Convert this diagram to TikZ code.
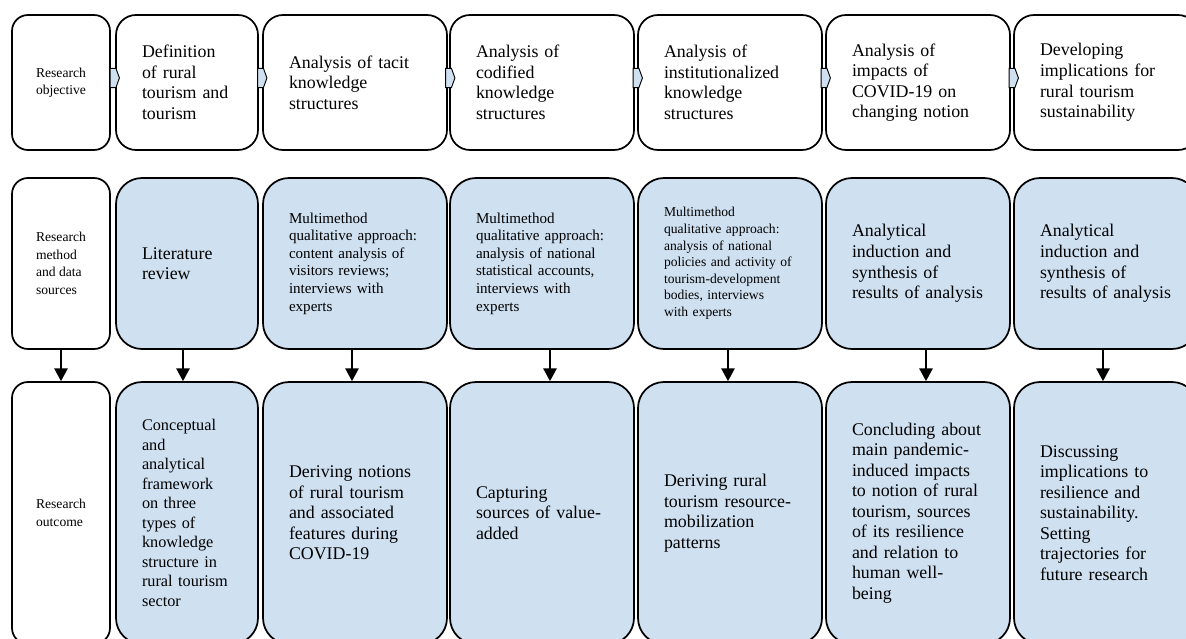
\documentclass[tikz,border=0pt]{standalone}
\usepackage{fontspec}
\setmainfont{Liberation Serif}
\usetikzlibrary{arrows.meta,shapes.symbols}
\definecolor{paleblue}{HTML}{CFE0F1}
\newcommand{\txtL}{\fontsize{13.4pt}{15.4pt}\selectfont}
\newcommand{\txtB}{\fontsize{12.2pt}{14.6pt}\selectfont}
\newcommand{\txtM}{\fontsize{11.3pt}{13.2pt}\selectfont}
\newcommand{\txtS}{\fontsize{10.2pt}{12.45pt}\selectfont}
\newcommand{\txtC}{\fontsize{10.2pt}{13.1pt}\selectfont}
\tikzstyle{labelbox}=[draw=black,line width=1.3pt,fill=white,rounded corners=12pt,
                      inner sep=0pt,align=left,minimum width=73.5pt,font=\txtC]
\tikzstyle{stepbox}=[draw=black,line width=1.3pt,fill=white,rounded corners=15pt,
                     inner xsep=19.5pt,align=left,font=\txtL]
\tikzstyle{bluebox}=[draw=black,line width=1.3pt,fill=paleblue,rounded corners=19.5pt,
                     inner xsep=19.5pt,align=left,font=\txtL]
\tikzstyle{chevron}=[signal,signal to=east,signal pointer angle=140,draw=black,
                     line width=0.7pt,fill=paleblue,inner sep=0pt,
                     minimum width=7pt,minimum height=14.5pt]
\tikzstyle{downarrow}=[-{Triangle[length=9.5pt,width=10pt]},line width=1pt]

\begin{document}
\begin{tikzpicture}[x=0.75pt,y=-0.75pt]
    \newcommand{\colw}{99pt}
    \newcommand{\rowa}{101.25pt}
    \newcommand{\rowb}{128.25pt}
    \newcommand{\rowc}{196.5pt}
    \useasboundingbox (0,0) rectangle (1186,639);
    \clip (0,0) rectangle (1186,639);
    % research objective
    \node (o0) at (61,82.5) [labelbox,minimum height=\rowa] {Research\\objective};
    \node (o1) at (187,82.5) [stepbox,text width=67.5pt,minimum height=\rowa]
      {Definition\\of rural\\tourism and\\tourism};
    \node (o2) at (355,82.5) [stepbox,text width=\colw,minimum height=\rowa]
      {Analysis of tacit\\knowledge\\structures};
    \node (o3) at (542,82.5) [stepbox,text width=\colw,minimum height=\rowa]
      {Analysis of\\codified\\knowledge\\structures};
    \node (o4) at (730,82.5) [stepbox,text width=\colw,minimum height=\rowa]
      {Analysis of\\institutionalized\\knowledge\\structures};
    \node (o5) at (918,82.5) [stepbox,text width=\colw,minimum height=\rowa]
      {Analysis of\\impacts of\\COVID-19 on\\changing notion};
    \node (o6) at (1106,82.5) [stepbox,text width=\colw,minimum height=\rowa]
      {Developing\\implications for\\rural tourism\\sustainability};
    % research method and data sources
    \node (m0) at (61,263.5) [labelbox,minimum height=\rowb]
      {Research\\method\\and data\\sources};
    \node (m1) at (187,263.5) [bluebox,text width=67.5pt,minimum height=\rowb]
      {Literature\\review};
    \node (m2) at (355,263.5) [bluebox,text width=\colw,minimum height=\rowb,font=\txtM]
      {Multimethod\\qualitative approach:\\content analysis of\\visitors reviews;\\interviews with\\experts};
    \node (m3) at (542,263.5) [bluebox,text width=\colw,minimum height=\rowb,font=\txtM]
      {Multimethod\\qualitative approach:\\analysis of national\\statistical accounts,\\interviews with\\experts};
    \node (m4) at (730,263.5) [bluebox,text width=\colw,minimum height=\rowb,font=\txtS]
      {Multimethod\\qualitative approach:\\analysis of national\\policies and activity of\\tourism-development\\bodies, interviews\\with experts};
    \node (m5) at (918,263.5) [bluebox,text width=\colw,minimum height=\rowb]
      {Analytical\\induction and\\synthesis of\\results of analysis};
    \node (m6) at (1106,263.5) [bluebox,text width=\colw,minimum height=\rowb]
      {Analytical\\induction and\\synthesis of\\results of analysis};
    % research outcome
    \node (u0) at (61,513) [labelbox,minimum height=\rowc] {Research\\outcome};
    \node (u1) at (187,513) [bluebox,text width=67.5pt,minimum height=\rowc,font=\txtB]
      {Conceptual\\and\\analytical\\framework\\on three\\types of\\knowledge\\structure in\\rural tourism\\sector};
    \node (u2) at (355,513) [bluebox,text width=\colw,minimum height=\rowc]
      {Deriving notions\\of rural tourism\\and associated\\features during\\COVID-19};
    \node (u3) at (542,513) [bluebox,text width=\colw,minimum height=\rowc]
      {Capturing\\sources of value-\\added};
    \node (u4) at (730,513) [bluebox,text width=\colw,minimum height=\rowc]
      {Deriving rural\\tourism resource-\\mobilization\\patterns};
    \node (u5) at (918,513) [bluebox,text width=\colw,minimum height=\rowc]
      {Concluding about\\main pandemic-\\induced impacts\\to notion of rural\\tourism, sources\\of its resilience\\and relation to\\human well-\\being};
    \node (u6) at (1106,513) [bluebox,text width=\colw,minimum height=\rowc]
      {Discussing\\implications to\\resilience and\\sustainability.\\Setting\\trajectories for\\future research};
    % links
    \foreach \i/\j in {0/1,1/2,2/3,3/4,4/5,5/6}
      \path (o\i.east) -- (o\j.west) node[chevron,midway,yshift=3.4pt] (a\i) {};
    \foreach \i/\dx in {0/0,1/-4,2/-3,3/8,4/-2,5/8,6/-3}
      \draw[downarrow] ([xshift={\dx*0.75pt}]m\i.south) -- ([xshift={\dx*0.75pt}]u\i.north);
\end{tikzpicture}
\end{document}
